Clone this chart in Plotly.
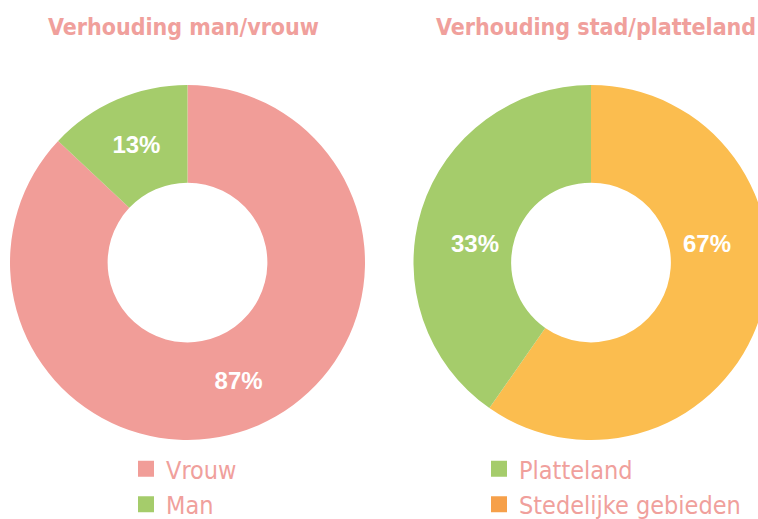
import plotly.graph_objects as go

W, H = 770, 519   # a bit wider than the window so the right donut is clipped as in the reference

# ---- data ----
gender_labels = ["Vrouw", "Man"]
gender_values = [87, 13]
gender_colors = ["#F19D98", "#A5CC6B"]
gender_legend_colors = ["#F19D98", "#A5CC6B"]

region_labels = ["Platteland", "Stedelijke gebieden"]
region_values = [33, 67]            # percentages printed on the chart
region_drawn_shares = [40.3, 59.7]  # slice sizes as actually drawn in the picture
region_colors = ["#A5CC6B", "#FBBD4F"]
region_legend_colors = ["#A5CC6B", "#F6A04A"]

titles = ["Verhouding man/vrouw", "Verhouding stad/platteland"]

TITLE_COLOR = "#F0A09C"
COND = "Liberation Sans Narrow, DejaVu Sans Condensed, Arial Narrow, sans-serif"
LABEL_FONT = "Liberation Sans, Arial, Helvetica, sans-serif"

HOLE = 0.45


def px_x(p):
    return p / W


def px_y(p):
    return 1 - p / H


left_dom = dict(x=[px_x(10), px_x(365)], y=[px_y(440), px_y(85)])
right_dom = dict(x=[px_x(412), 1.0], y=[px_y(440), px_y(85)])

fig = go.Figure()

fig.add_trace(go.Pie(
    labels=gender_labels, values=gender_values,
    marker=dict(colors=gender_colors, line=dict(width=0)),
    hole=HOLE, sort=False, direction="clockwise", rotation=0,
    domain=left_dom,
    texttemplate="%{percent:.0%}", textposition="inside",
    insidetextorientation="horizontal",
    textfont=dict(color="white", size=24, family=LABEL_FONT, weight="bold"),
    showlegend=False, hoverinfo="label+percent",
))

fig.add_trace(go.Pie(
    labels=region_labels[::-1], values=region_drawn_shares[::-1],
    marker=dict(colors=region_colors[::-1], line=dict(width=0)),
    hole=HOLE, sort=False, direction="clockwise", rotation=0,
    domain=right_dom,
    textinfo="none",
    showlegend=False, hoverinfo="label",
))

# legend entries (dummy traces so the swatch colours can match the reference)
for lab, col in zip(gender_labels, gender_legend_colors):
    fig.add_trace(go.Scatter(x=[None], y=[None], mode="markers", name=lab,
                             marker=dict(symbol="square", size=18, color=col),
                             legend="legend"))
for lab, col in zip(region_labels, region_legend_colors):
    fig.add_trace(go.Scatter(x=[None], y=[None], mode="markers", name=lab,
                             marker=dict(symbol="square", size=18, color=col),
                             legend="legend2"))

annotations = []
for t, tx in zip(titles, [183, 596]):
    annotations.append(dict(
        text=f"<b>{t}</b>", x=px_x(tx), y=px_y(27), xref="paper", yref="paper",
        xanchor="center", yanchor="middle", showarrow=False,
        font=dict(size=23, color=TITLE_COLOR, family=COND)))

# right-donut percentage labels, on the ring just above the donut's horizontal axis
rx0, rx1 = right_dom["x"][0] * W, right_dom["x"][1] * W
ry0, ry1 = (1 - right_dom["y"][1]) * H, (1 - right_dom["y"][0]) * H
r_out = min(rx1 - rx0, ry1 - ry0) / 2
cx = (rx0 + rx1) / 2
cy = (ry0 + ry1) / 2
r_lab = r_out * (1 + HOLE) / 2 * 0.9
for v, sign in zip(region_values, [-1, 1]):
    annotations.append(dict(
        text=f"<b>{v}%</b>", x=px_x(cx + sign * r_lab), y=px_y(cy - 0.107 * r_out),
        xref="paper", yref="paper", xanchor="center", yanchor="middle",
        showarrow=False, font=dict(size=24, color="white", family=LABEL_FONT)))

legend_style = dict(
    font=dict(size=25, color=TITLE_COLOR, family=COND),
    bgcolor="rgba(0,0,0,0)", itemsizing="trace", tracegroupgap=0,
    xanchor="left", yanchor="top", orientation="v",
)

fig.update_layout(
    width=W, height=H,
    margin=dict(l=0, r=0, t=0, b=0, autoexpand=False),
    paper_bgcolor="white", plot_bgcolor="white",
    xaxis=dict(visible=False), yaxis=dict(visible=False),
    annotations=annotations,
    legend=dict(x=px_x(126), y=px_y(446), **legend_style),
    legend2=dict(x=px_x(479), y=px_y(446), **legend_style),
)

post = ("document.documentElement.style.margin='0';"
        "document.body.style.margin='0';"
        "document.documentElement.style.overflow='hidden';"
        "document.body.style.overflow='hidden';")

fig.write_html("out.html", post_script=post, config={"displayModeBar": False})
